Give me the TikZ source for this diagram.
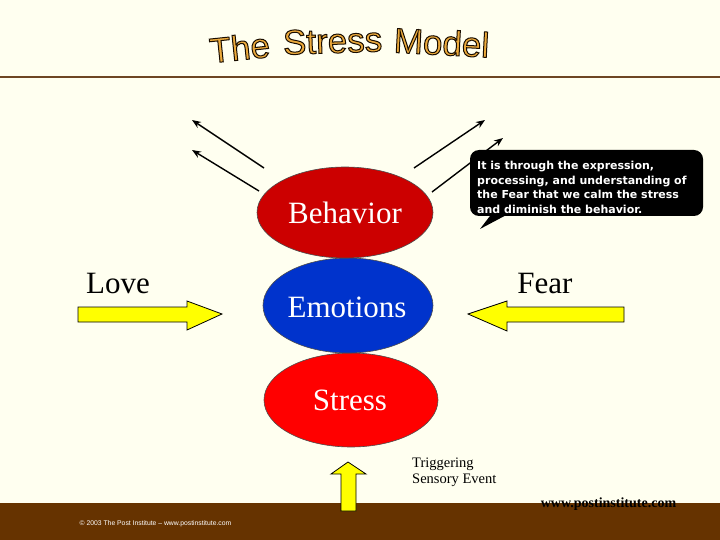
\documentclass[tikz,border=0pt]{standalone}
\usepackage{fontspec}
\setmainfont{Liberation Serif}
\newfontfamily\arialf{Liberation Sans}
\newfontfamily\calloutf{DejaVu Sans}
\usetikzlibrary{arrows.meta}
\definecolor{bgcream}{RGB}{255,255,240}
\definecolor{brownbar}{RGB}{102,51,0}
\definecolor{brownline}{RGB}{110,70,35}
\definecolor{titleorange}{RGB}{236,170,60}
\definecolor{behred}{RGB}{204,0,0}
\definecolor{emoblue}{RGB}{0,51,204}
\definecolor{strred}{RGB}{255,0,0}
\definecolor{arrowyellow}{RGB}{255,255,0}
\newcommand{\outlinedword}[1]{\textcolor{titleorange}{\special{pdf:literal direct 2 Tr 1 w 0.1 0.05 0 RG}#1\special{pdf:literal direct 0 Tr}}}
\tikzset{
  titleword/.style={font=\arialf\fontsize{35}{40}\selectfont, inner sep=0pt, anchor=base},
  bigword/.style={font=\fontsize{31}{36}\selectfont, inner sep=0pt, anchor=base},
  thinarrow/.style={line width=1.4pt, -{Stealth[length=9pt,width=7pt]}},
  fatarrow/.style={fill=arrowyellow, draw=black, line width=0.8pt, line join=miter},
}
\begin{document}
\begin{tikzpicture}[x=1pt,y=-1pt]
% background
\fill[bgcream] (0,0) rectangle (720,540);
\useasboundingbox (0,0) rectangle (720,540);
% top rule and bottom bar
\draw[brownline, line width=2.2pt] (0,77) -- (720,77);
\fill[brownbar] (0,503) rectangle (720,540);

% title
\node[titleword, rotate=6] (tThe) at (241,60) {\outlinedword{The}};
\node[titleword, rotate=2] (tStress) at (333,53) {\outlinedword{Stress}};
\node[titleword, rotate=-3] (tModel) at (441,55) {\outlinedword{Model}};

% ellipses
\path[fill=strred, draw=black!70, line width=0.6pt] (351,400) ellipse [x radius=87, y radius=47];
\path[fill=emoblue, draw=black!70, line width=0.6pt] (348,305.5) ellipse [x radius=85, y radius=47.5];
\path[fill=behred, draw=black!70, line width=0.6pt] (345,212.5) ellipse [x radius=88, y radius=45.5];
\node[bigword, text=white] (beh) at (345,224) {Behavior};
\node[bigword, text=white] (emo) at (347,317) {Emotions};
\node[bigword, text=white] (str) at (350,410) {Stress};

% radiating arrows
\coordinate (la1) at (264,168); \coordinate (lb1) at (192,120);
\coordinate (la2) at (259,191); \coordinate (lb2) at (192,150);
\coordinate (ra1) at (414,168); \coordinate (rb1) at (485,120);
\coordinate (ra2) at (432,192); \coordinate (rb2) at (503,138);
\draw[thinarrow] (la1) -- (lb1);
\draw[thinarrow] (la2) -- (lb2);
\draw[thinarrow] (ra1) -- (rb1);
\draw[thinarrow] (ra2) -- (rb2);

% callout
\fill[black, rounded corners=9pt] (470,150) rectangle (703,216);
\fill[black] (493,212) -- (480,229) -- (512,212) -- cycle;
\node[font=\calloutf\bfseries\fontsize{11}{14.6}\selectfont, text=white, align=left, inner sep=0pt, anchor=north west] (callout) at (477,161)
  {It is through the expression,\\processing, and understanding of\\the Fear that we calm the stress\\and diminish the behavior.};

% Love / Fear
\node[bigword] (love) at (118,293) {Love};
\node[bigword] (fear) at (545,293) {Fear};
\draw[fatarrow] (78,307) -- (187,307) -- (187,301) -- (222,314) -- (187,330) -- (187,322) -- (78,322) -- cycle;
\draw[fatarrow] (624,307) -- (507,307) -- (507,301) -- (468,314) -- (507,331) -- (507,322) -- (624,322) -- cycle;

% up arrow
\draw[fatarrow] (341,511) -- (341,474) -- (331,474) -- (348,462) -- (366,474) -- (356,474) -- (356,511) -- cycle;

% triggering text
\node[font=\fontsize{14.5}{16}\selectfont, inner sep=0pt, anchor=base west] (trig1) at (412,467) {Triggering};
\node[font=\fontsize{14.5}{16}\selectfont, inner sep=0pt, anchor=base west] (trig2) at (412,483) {Sensory Event};

% web
\node[font=\bfseries\fontsize{14}{16}\selectfont, inner sep=0pt, anchor=base] (web) at (608.5,507) {www.postinstitute.com};
\node[font=\arialf\fontsize{6.8}{8}\selectfont, text=white, inner sep=0pt] (copy) at (155.5,524) {© 2003 The Post Institute – www.postinstitute.com};
\end{tikzpicture}
\end{document}
